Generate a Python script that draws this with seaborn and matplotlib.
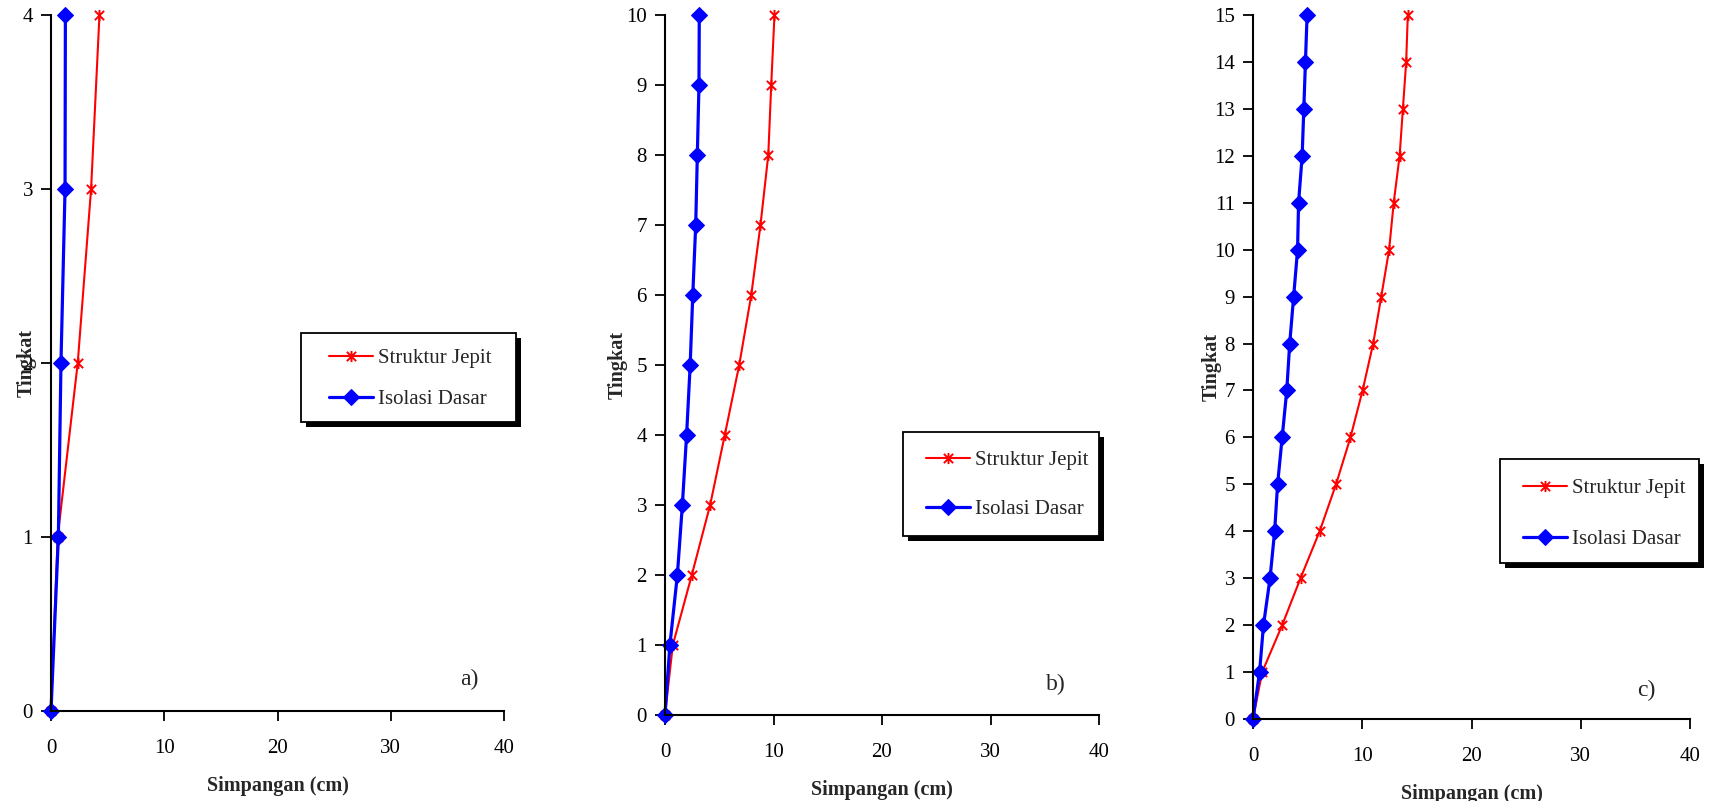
import numpy as np
import pandas as pd
import matplotlib
matplotlib.use("Agg")
import matplotlib.pyplot as plt
from matplotlib.path import Path
from matplotlib.patches import Rectangle
import seaborn as sns

# ---- data ----
levels_a = [0, 1, 2, 3, 4]
jepit_a = [0.0, 0.59, 2.36, 3.54, 4.28]
isolasi_a = [0.0, 0.65, 0.88, 1.24, 1.27]

levels_b = list(range(0, 11))
jepit_b = [0.0, 0.72, 2.47, 4.16, 5.51, 6.84, 7.95, 8.80, 9.52, 9.79, 10.09]
isolasi_b = [0.0, 0.45, 1.14, 1.60, 1.99, 2.32, 2.56, 2.83, 2.98, 3.13, 3.16]

levels_c = list(range(0, 16))
jepit_c = [0.0, 0.84, 2.67, 4.35, 6.10, 7.60, 8.92, 10.03, 11.00, 11.74,
           12.46, 12.88, 13.42, 13.72, 14.02, 14.17]
isolasi_c = [0.0, 0.60, 0.96, 1.56, 1.98, 2.25, 2.67, 3.09, 3.36, 3.72,
             4.08, 4.17, 4.50, 4.65, 4.80, 4.95]

series_names = ["Struktur Jepit", "Isolasi Dasar"]
panel_tags = ["a)", "b)", "c)"]
x_label = "Simpangan (cm)"
y_label = "Tingkat"
x_ticks = [0, 10, 20, 30, 40]

# ---- style ----
sns.set_theme(style="white")
plt.rcParams['font.family'] = ['Liberation Serif', 'DejaVu Serif']
plt.rcParams['axes.edgecolor'] = 'black'
plt.rcParams['xtick.color'] = 'black'
plt.rcParams['ytick.color'] = 'black'

W, H = 1711, 801

# Excel-like asterisk marker: X with vertical bar
star_path = Path(
    [(-1, -1), (1, 1), (-1, 1), (1, -1), (0, -1.2), (0, 1.2)],
    [Path.MOVETO, Path.LINETO, Path.MOVETO, Path.LINETO, Path.MOVETO, Path.LINETO])

fig = plt.figure(figsize=(W / 100, H / 100), dpi=100)

positions = [
    [51 / W, 1 - 711 / H, (504 - 51) / W, (711 - 15) / H],
    [665 / W, 1 - 715 / H, (1099 - 665) / W, (715 - 15) / H],
    [1253 / W, 1 - 719 / H, (1690 - 1253) / W, (719 - 15) / H],
]
datasets = [
    (levels_a, jepit_a, isolasi_a),
    (levels_b, jepit_b, isolasi_b),
    (levels_c, jepit_c, isolasi_c),
]
# legend frames (pixel boxes: x0, y0, x1, y1), handle start x, row centres
legend_boxes = [(301, 333, 516, 422), (903, 432, 1099, 536), (1500, 459, 1699, 563)]
legend_handle_x = [329, 926, 1523]
legend_rows = [(358, 400), (460, 510), (488, 540)]
ylabel_x = [-0.032, -0.085, -0.072]
tag_pos = [(0.923, 0.046), (0.90, 0.044), (0.90, 0.04)]

LEG_FS = 15
for i, (pos, (lv, jp, iso)) in enumerate(zip(positions, datasets)):
    ax = fig.add_axes(pos)
    df_j = pd.DataFrame({"x": jp, "y": lv})
    df_i = pd.DataFrame({"x": iso, "y": lv})
    sns.lineplot(data=df_j, x="x", y="y", ax=ax, sort=False, estimator=None,
                 color="#ff0000", linewidth=1.5, marker=star_path, markersize=8,
                 markeredgewidth=1.4, markeredgecolor="#ff0000",
                 label=series_names[0], clip_on=False)
    sns.lineplot(data=df_i, x="x", y="y", ax=ax, sort=False, estimator=None,
                 color="#0000ff", linewidth=2.3, marker="D", markersize=8,
                 markeredgecolor="#0000ff", markerfacecolor="#0000ff",
                 label=series_names[1], clip_on=False)
    ax.set_xlim(0, 40)
    ax.set_ylim(0, lv[-1])
    ax.set_xticks(x_ticks)
    ax.set_yticks(lv)
    for s in ["top", "right"]:
        ax.spines[s].set_visible(False)
    for s in ["left", "bottom"]:
        ax.spines[s].set_linewidth(1.5)
        ax.spines[s].set_color("black")
    ax.tick_params(axis="x", bottom=True, direction="out", length=7, width=1.3,
                   pad=13, labelsize=15)
    ax.tick_params(axis="y", left=True, direction="out", length=7, width=1.3,
                   pad=6, labelsize=15)
    ax.set_xlabel(x_label, fontsize=14.5, fontweight="bold", labelpad=13)
    ax.set_ylabel(y_label, fontsize=14.5, fontweight="bold")
    ax.yaxis.set_label_coords(ylabel_x[i], 0.5)
    ax.text(tag_pos[i][0], tag_pos[i][1], panel_tags[i], transform=ax.transAxes,
            fontsize=17, ha="center", va="center")

    # legend frame with solid shadow
    x0, y0, x1, y1 = legend_boxes[i]
    sh = 5
    fig.patches.append(Rectangle(((x0 + sh) / W, 1 - (y1 + sh) / H), (x1 - x0) / W,
                                 (y1 - y0) / H, transform=fig.transFigure,
                                 facecolor="black", edgecolor="none", zorder=5))
    fig.patches.append(Rectangle((x0 / W, 1 - y1 / H), (x1 - x0) / W, (y1 - y0) / H,
                                 transform=fig.transFigure, facecolor="white",
                                 edgecolor="black", linewidth=1.3, zorder=6))
    r1, r2 = legend_rows[i]
    row_gap = r2 - r1
    fs_px = LEG_FS * 100 / 72
    lab_sp = (row_gap - 1.0 * fs_px) / fs_px
    leg = ax.legend(loc="center left",
                    bbox_to_anchor=(legend_handle_x[i] / W, 1 - (r1 + r2) / 2 / H),
                    bbox_transform=fig.transFigure, frameon=False,
                    fontsize=LEG_FS, handlelength=2.1, borderpad=0,
                    labelspacing=lab_sp, borderaxespad=0, handletextpad=0.25)
    leg.set_zorder(7)
    leg.remove()
    fig.add_artist(leg)

fig.savefig("out.png", dpi=100)
